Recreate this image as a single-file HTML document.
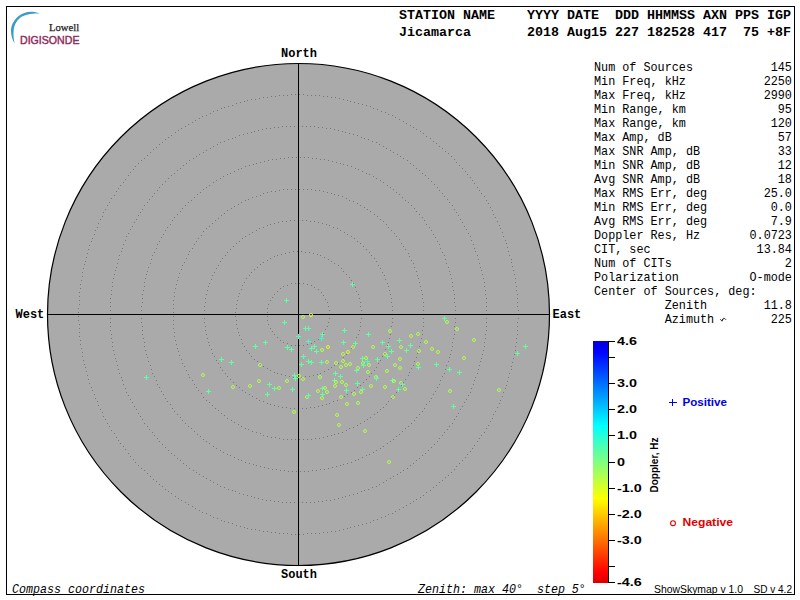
<!DOCTYPE html>
<html><head><meta charset="utf-8"><title>Skymap</title><style>
html,body{margin:0;padding:0;background:#fff;width:800px;height:600px;overflow:hidden}
svg{position:absolute;left:0;top:0;display:block}
text{white-space:pre}
.hdr{font-family:"Liberation Mono",monospace;font-weight:bold;font-size:13.33px;fill:#000}
.st{font-family:"Liberation Mono",monospace;font-size:11.8px;fill:#000}
.cmp{font-family:"Liberation Mono",monospace;font-weight:bold;font-size:12px;fill:#000}
.cbl{font-family:"Liberation Sans",sans-serif;font-weight:bold;font-size:11.5px;fill:#000}
.dl{font-family:"Liberation Sans",sans-serif;font-weight:bold;font-size:10px;fill:#000}
.lg{font-family:"Liberation Sans",sans-serif;font-weight:bold;font-size:10px}
.ft{font-family:"Liberation Mono",monospace;font-style:italic;font-size:11.67px;fill:#000}
.ver{font-family:"Liberation Sans",sans-serif;font-size:10px;fill:#000}
.lw{font-family:"Liberation Serif",serif;font-size:11px;fill:#222;stroke:#222;stroke-width:0.25px}
.dg{font-family:"Liberation Sans",sans-serif;font-size:11.5px;fill:#8f2c5c;stroke:#8f2c5c;stroke-width:0.45px}
</style></head>
<body><svg width="800" height="600" viewBox="0 0 800 600"><defs><linearGradient id="cb" x1="0" y1="0" x2="0" y2="1"><stop offset="0.000" stop-color="#0000db"/><stop offset="0.025" stop-color="#0000f0"/><stop offset="0.050" stop-color="#0006ff"/><stop offset="0.075" stop-color="#001bff"/><stop offset="0.100" stop-color="#0030ff"/><stop offset="0.125" stop-color="#0045ff"/><stop offset="0.150" stop-color="#005aff"/><stop offset="0.175" stop-color="#006fff"/><stop offset="0.200" stop-color="#0084ff"/><stop offset="0.225" stop-color="#0098ff"/><stop offset="0.250" stop-color="#00adff"/><stop offset="0.275" stop-color="#00c2ff"/><stop offset="0.300" stop-color="#00d7ff"/><stop offset="0.325" stop-color="#00ecff"/><stop offset="0.350" stop-color="#02fffd"/><stop offset="0.375" stop-color="#17ffe8"/><stop offset="0.400" stop-color="#2cffd3"/><stop offset="0.425" stop-color="#41ffbe"/><stop offset="0.450" stop-color="#56ffa9"/><stop offset="0.475" stop-color="#6bff94"/><stop offset="0.500" stop-color="#80ff80"/><stop offset="0.525" stop-color="#94ff6b"/><stop offset="0.550" stop-color="#a9ff56"/><stop offset="0.575" stop-color="#beff41"/><stop offset="0.600" stop-color="#d3ff2c"/><stop offset="0.625" stop-color="#e8ff17"/><stop offset="0.650" stop-color="#fdff02"/><stop offset="0.675" stop-color="#ffec00"/><stop offset="0.700" stop-color="#ffd700"/><stop offset="0.725" stop-color="#ffc200"/><stop offset="0.750" stop-color="#ffad00"/><stop offset="0.775" stop-color="#ff9800"/><stop offset="0.800" stop-color="#ff8400"/><stop offset="0.825" stop-color="#ff6f00"/><stop offset="0.850" stop-color="#ff5a00"/><stop offset="0.875" stop-color="#ff4500"/><stop offset="0.900" stop-color="#ff3000"/><stop offset="0.925" stop-color="#ff1b00"/><stop offset="0.950" stop-color="#ff0600"/><stop offset="0.975" stop-color="#f00000"/><stop offset="1.000" stop-color="#db0000"/></linearGradient></defs>
<rect x="6.5" y="6.5" width="788" height="588" fill="none" stroke="#000" stroke-width="1"/>
<circle cx="298.5" cy="314.5" r="251" fill="#aaaaaa" stroke="#000" stroke-width="1.2"/>
<path fill="#777777" d="M329 314h1v1h-1zM329 310h1v1h-1zM328 306h1v1h-1zM327 302h1v1h-1zM325 299h1v1h-1zM323 295h1v1h-1zM321 292h1v1h-1zM318 289h1v1h-1zM314 287h1v1h-1zM311 285h1v1h-1zM307 284h1v1h-1zM303 283h1v1h-1zM299 283h1v1h-1zM295 283h1v1h-1zM291 283h1v1h-1zM287 285h1v1h-1zM283 286h1v1h-1zM280 288h1v1h-1zM277 291h1v1h-1zM274 294h1v1h-1zM272 297h1v1h-1zM270 300h1v1h-1zM268 304h1v1h-1zM267 308h1v1h-1zM267 312h1v1h-1zM267 316h1v1h-1zM267 320h1v1h-1zM268 324h1v1h-1zM270 328h1v1h-1zM272 331h1v1h-1zM274 334h1v1h-1zM277 337h1v1h-1zM280 340h1v1h-1zM283 342h1v1h-1zM287 343h1v1h-1zM291 345h1v1h-1zM295 345h1v1h-1zM299 345h1v1h-1zM303 345h1v1h-1zM307 344h1v1h-1zM311 343h1v1h-1zM314 341h1v1h-1zM318 339h1v1h-1zM321 336h1v1h-1zM323 333h1v1h-1zM325 329h1v1h-1zM327 326h1v1h-1zM328 322h1v1h-1zM329 318h1v1h-1z"/>
<path fill="#777777" d="M361 314h1v1h-1zM361 310h1v1h-1zM360 306h1v1h-1zM360 302h1v1h-1zM359 298h1v1h-1zM358 294h1v1h-1zM356 291h1v1h-1zM355 287h1v1h-1zM353 283h1v1h-1zM351 280h1v1h-1zM349 277h1v1h-1zM346 274h1v1h-1zM343 271h1v1h-1zM341 268h1v1h-1zM338 265h1v1h-1zM334 263h1v1h-1zM331 261h1v1h-1zM328 259h1v1h-1zM324 257h1v1h-1zM320 255h1v1h-1zM317 254h1v1h-1zM313 253h1v1h-1zM309 252h1v1h-1zM305 252h1v1h-1zM301 251h1v1h-1zM297 251h1v1h-1zM293 251h1v1h-1zM289 252h1v1h-1zM285 253h1v1h-1zM281 254h1v1h-1zM277 255h1v1h-1zM274 256h1v1h-1zM270 258h1v1h-1zM267 260h1v1h-1zM263 262h1v1h-1zM260 264h1v1h-1zM257 267h1v1h-1zM254 269h1v1h-1zM251 272h1v1h-1zM249 275h1v1h-1zM246 278h1v1h-1zM244 282h1v1h-1zM242 285h1v1h-1zM241 289h1v1h-1zM239 293h1v1h-1zM238 296h1v1h-1zM237 300h1v1h-1zM236 304h1v1h-1zM236 308h1v1h-1zM235 312h1v1h-1zM235 316h1v1h-1zM236 320h1v1h-1zM236 324h1v1h-1zM237 328h1v1h-1zM238 332h1v1h-1zM239 335h1v1h-1zM241 339h1v1h-1zM242 343h1v1h-1zM244 346h1v1h-1zM246 350h1v1h-1zM249 353h1v1h-1zM251 356h1v1h-1zM254 359h1v1h-1zM257 361h1v1h-1zM260 364h1v1h-1zM263 366h1v1h-1zM267 368h1v1h-1zM270 370h1v1h-1zM274 372h1v1h-1zM277 373h1v1h-1zM281 374h1v1h-1zM285 375h1v1h-1zM289 376h1v1h-1zM293 377h1v1h-1zM297 377h1v1h-1zM301 377h1v1h-1zM305 376h1v1h-1zM309 376h1v1h-1zM313 375h1v1h-1zM317 374h1v1h-1zM320 373h1v1h-1zM324 371h1v1h-1zM328 369h1v1h-1zM331 367h1v1h-1zM334 365h1v1h-1zM338 363h1v1h-1zM341 360h1v1h-1zM343 357h1v1h-1zM346 354h1v1h-1zM349 351h1v1h-1zM351 348h1v1h-1zM353 345h1v1h-1zM355 341h1v1h-1zM356 337h1v1h-1zM358 334h1v1h-1zM359 330h1v1h-1zM360 326h1v1h-1zM360 322h1v1h-1zM361 318h1v1h-1z"/>
<path fill="#777777" d="M392 314h1v1h-1zM392 310h1v1h-1zM392 306h1v1h-1zM391 302h1v1h-1zM391 298h1v1h-1zM390 294h1v1h-1zM389 290h1v1h-1zM388 286h1v1h-1zM387 283h1v1h-1zM385 279h1v1h-1zM384 275h1v1h-1zM382 272h1v1h-1zM380 268h1v1h-1zM378 265h1v1h-1zM376 261h1v1h-1zM374 258h1v1h-1zM371 255h1v1h-1zM369 252h1v1h-1zM366 249h1v1h-1zM363 246h1v1h-1zM360 243h1v1h-1zM357 241h1v1h-1zM354 238h1v1h-1zM351 236h1v1h-1zM347 234h1v1h-1zM344 232h1v1h-1zM340 230h1v1h-1zM337 228h1v1h-1zM333 227h1v1h-1zM329 225h1v1h-1zM326 224h1v1h-1zM322 223h1v1h-1zM318 222h1v1h-1zM314 221h1v1h-1zM310 221h1v1h-1zM306 220h1v1h-1zM302 220h1v1h-1zM298 220h1v1h-1zM294 220h1v1h-1zM290 220h1v1h-1zM286 221h1v1h-1zM282 221h1v1h-1zM278 222h1v1h-1zM274 223h1v1h-1zM270 224h1v1h-1zM267 225h1v1h-1zM263 227h1v1h-1zM259 228h1v1h-1zM256 230h1v1h-1zM252 232h1v1h-1zM249 234h1v1h-1zM245 236h1v1h-1zM242 238h1v1h-1zM239 241h1v1h-1zM236 243h1v1h-1zM233 246h1v1h-1zM230 249h1v1h-1zM227 252h1v1h-1zM225 255h1v1h-1zM222 258h1v1h-1zM220 261h1v1h-1zM218 265h1v1h-1zM216 268h1v1h-1zM214 272h1v1h-1zM212 275h1v1h-1zM211 279h1v1h-1zM209 283h1v1h-1zM208 286h1v1h-1zM207 290h1v1h-1zM206 294h1v1h-1zM205 298h1v1h-1zM205 302h1v1h-1zM204 306h1v1h-1zM204 310h1v1h-1zM204 314h1v1h-1zM204 318h1v1h-1zM204 322h1v1h-1zM205 326h1v1h-1zM205 330h1v1h-1zM206 334h1v1h-1zM207 338h1v1h-1zM208 342h1v1h-1zM209 345h1v1h-1zM211 349h1v1h-1zM212 353h1v1h-1zM214 356h1v1h-1zM216 360h1v1h-1zM218 363h1v1h-1zM220 367h1v1h-1zM222 370h1v1h-1zM225 373h1v1h-1zM227 376h1v1h-1zM230 379h1v1h-1zM233 382h1v1h-1zM236 385h1v1h-1zM239 387h1v1h-1zM242 390h1v1h-1zM245 392h1v1h-1zM249 394h1v1h-1zM252 396h1v1h-1zM256 398h1v1h-1zM259 400h1v1h-1zM263 401h1v1h-1zM267 403h1v1h-1zM270 404h1v1h-1zM274 405h1v1h-1zM278 406h1v1h-1zM282 407h1v1h-1zM286 407h1v1h-1zM290 408h1v1h-1zM294 408h1v1h-1zM298 408h1v1h-1zM302 408h1v1h-1zM306 408h1v1h-1zM310 407h1v1h-1zM314 407h1v1h-1zM318 406h1v1h-1zM322 405h1v1h-1zM326 404h1v1h-1zM329 403h1v1h-1zM333 401h1v1h-1zM337 400h1v1h-1zM340 398h1v1h-1zM344 396h1v1h-1zM347 394h1v1h-1zM351 392h1v1h-1zM354 390h1v1h-1zM357 387h1v1h-1zM360 385h1v1h-1zM363 382h1v1h-1zM366 379h1v1h-1zM369 376h1v1h-1zM371 373h1v1h-1zM374 370h1v1h-1zM376 367h1v1h-1zM378 363h1v1h-1zM380 360h1v1h-1zM382 356h1v1h-1zM384 353h1v1h-1zM385 349h1v1h-1zM387 345h1v1h-1zM388 342h1v1h-1zM389 338h1v1h-1zM390 334h1v1h-1zM391 330h1v1h-1zM391 326h1v1h-1zM392 322h1v1h-1zM392 318h1v1h-1z"/>
<path fill="#777777" d="M424 314h1v1h-1zM423 310h1v1h-1zM423 306h1v1h-1zM423 302h1v1h-1zM422 298h1v1h-1zM422 294h1v1h-1zM421 290h1v1h-1zM420 286h1v1h-1zM419 282h1v1h-1zM418 278h1v1h-1zM417 275h1v1h-1zM416 271h1v1h-1zM414 267h1v1h-1zM413 263h1v1h-1zM411 260h1v1h-1zM409 256h1v1h-1zM408 253h1v1h-1zM405 249h1v1h-1zM403 246h1v1h-1zM401 243h1v1h-1zM399 239h1v1h-1zM396 236h1v1h-1zM394 233h1v1h-1zM391 230h1v1h-1zM388 227h1v1h-1zM386 224h1v1h-1zM383 221h1v1h-1zM380 219h1v1h-1zM377 216h1v1h-1zM374 214h1v1h-1zM370 211h1v1h-1zM367 209h1v1h-1zM364 207h1v1h-1zM360 205h1v1h-1zM357 203h1v1h-1zM353 201h1v1h-1zM349 200h1v1h-1zM346 198h1v1h-1zM342 196h1v1h-1zM338 195h1v1h-1zM334 194h1v1h-1zM331 193h1v1h-1zM327 192h1v1h-1zM323 191h1v1h-1zM319 190h1v1h-1zM315 190h1v1h-1zM311 189h1v1h-1zM307 189h1v1h-1zM303 189h1v1h-1zM299 189h1v1h-1zM295 189h1v1h-1zM291 189h1v1h-1zM287 189h1v1h-1zM283 189h1v1h-1zM279 190h1v1h-1zM275 191h1v1h-1zM271 191h1v1h-1zM267 192h1v1h-1zM263 193h1v1h-1zM260 195h1v1h-1zM256 196h1v1h-1zM252 197h1v1h-1zM248 199h1v1h-1zM245 200h1v1h-1zM241 202h1v1h-1zM238 204h1v1h-1zM234 206h1v1h-1zM231 208h1v1h-1zM227 210h1v1h-1zM224 213h1v1h-1zM221 215h1v1h-1zM218 218h1v1h-1zM215 220h1v1h-1zM212 223h1v1h-1zM209 226h1v1h-1zM206 228h1v1h-1zM203 231h1v1h-1zM201 235h1v1h-1zM198 238h1v1h-1zM196 241h1v1h-1zM194 244h1v1h-1zM192 248h1v1h-1zM189 251h1v1h-1zM188 254h1v1h-1zM186 258h1v1h-1zM184 262h1v1h-1zM182 265h1v1h-1zM181 269h1v1h-1zM179 273h1v1h-1zM178 277h1v1h-1zM177 280h1v1h-1zM176 284h1v1h-1zM175 288h1v1h-1zM174 292h1v1h-1zM174 296h1v1h-1zM173 300h1v1h-1zM173 304h1v1h-1zM173 308h1v1h-1zM173 312h1v1h-1zM173 316h1v1h-1zM173 320h1v1h-1zM173 324h1v1h-1zM173 328h1v1h-1zM174 332h1v1h-1zM174 336h1v1h-1zM175 340h1v1h-1zM176 344h1v1h-1zM177 348h1v1h-1zM178 351h1v1h-1zM179 355h1v1h-1zM181 359h1v1h-1zM182 363h1v1h-1zM184 366h1v1h-1zM186 370h1v1h-1zM188 374h1v1h-1zM189 377h1v1h-1zM192 380h1v1h-1zM194 384h1v1h-1zM196 387h1v1h-1zM198 390h1v1h-1zM201 393h1v1h-1zM203 397h1v1h-1zM206 400h1v1h-1zM209 402h1v1h-1zM212 405h1v1h-1zM215 408h1v1h-1zM218 410h1v1h-1zM221 413h1v1h-1zM224 415h1v1h-1zM227 418h1v1h-1zM231 420h1v1h-1zM234 422h1v1h-1zM238 424h1v1h-1zM241 426h1v1h-1zM245 428h1v1h-1zM248 429h1v1h-1zM252 431h1v1h-1zM256 432h1v1h-1zM260 433h1v1h-1zM263 435h1v1h-1zM267 436h1v1h-1zM271 437h1v1h-1zM275 437h1v1h-1zM279 438h1v1h-1zM283 439h1v1h-1zM287 439h1v1h-1zM291 439h1v1h-1zM295 439h1v1h-1zM299 439h1v1h-1zM303 439h1v1h-1zM307 439h1v1h-1zM311 439h1v1h-1zM315 438h1v1h-1zM319 438h1v1h-1zM323 437h1v1h-1zM327 436h1v1h-1zM331 435h1v1h-1zM334 434h1v1h-1zM338 433h1v1h-1zM342 432h1v1h-1zM346 430h1v1h-1zM349 428h1v1h-1zM353 427h1v1h-1zM357 425h1v1h-1zM360 423h1v1h-1zM364 421h1v1h-1zM367 419h1v1h-1zM370 417h1v1h-1zM374 414h1v1h-1zM377 412h1v1h-1zM380 409h1v1h-1zM383 407h1v1h-1zM386 404h1v1h-1zM388 401h1v1h-1zM391 398h1v1h-1zM394 395h1v1h-1zM396 392h1v1h-1zM399 389h1v1h-1zM401 385h1v1h-1zM403 382h1v1h-1zM405 379h1v1h-1zM408 375h1v1h-1zM409 372h1v1h-1zM411 368h1v1h-1zM413 365h1v1h-1zM414 361h1v1h-1zM416 357h1v1h-1zM417 353h1v1h-1zM418 350h1v1h-1zM419 346h1v1h-1zM420 342h1v1h-1zM421 338h1v1h-1zM422 334h1v1h-1zM422 330h1v1h-1zM423 326h1v1h-1zM423 322h1v1h-1zM423 318h1v1h-1z"/>
<path fill="#777777" d="M455 314h1v1h-1zM455 310h1v1h-1zM455 306h1v1h-1zM454 302h1v1h-1zM454 298h1v1h-1zM454 294h1v1h-1zM453 290h1v1h-1zM452 286h1v1h-1zM452 282h1v1h-1zM451 278h1v1h-1zM450 274h1v1h-1zM449 271h1v1h-1zM448 267h1v1h-1zM446 263h1v1h-1zM445 259h1v1h-1zM444 255h1v1h-1zM442 252h1v1h-1zM440 248h1v1h-1zM439 244h1v1h-1zM437 241h1v1h-1zM435 237h1v1h-1zM433 234h1v1h-1zM431 230h1v1h-1zM429 227h1v1h-1zM426 224h1v1h-1zM424 220h1v1h-1zM422 217h1v1h-1zM419 214h1v1h-1zM416 211h1v1h-1zM414 208h1v1h-1zM411 205h1v1h-1zM408 202h1v1h-1zM405 200h1v1h-1zM402 197h1v1h-1zM399 194h1v1h-1zM396 192h1v1h-1zM393 189h1v1h-1zM390 187h1v1h-1zM387 185h1v1h-1zM383 182h1v1h-1zM380 180h1v1h-1zM376 178h1v1h-1zM373 176h1v1h-1zM369 174h1v1h-1zM366 173h1v1h-1zM362 171h1v1h-1zM358 169h1v1h-1zM355 168h1v1h-1zM351 166h1v1h-1zM347 165h1v1h-1zM343 164h1v1h-1zM340 163h1v1h-1zM336 162h1v1h-1zM332 161h1v1h-1zM328 160h1v1h-1zM324 159h1v1h-1zM320 159h1v1h-1zM316 158h1v1h-1zM312 158h1v1h-1zM308 157h1v1h-1zM304 157h1v1h-1zM300 157h1v1h-1zM296 157h1v1h-1zM292 157h1v1h-1zM288 157h1v1h-1zM284 158h1v1h-1zM280 158h1v1h-1zM276 159h1v1h-1zM272 159h1v1h-1zM268 160h1v1h-1zM264 161h1v1h-1zM260 162h1v1h-1zM256 163h1v1h-1zM253 164h1v1h-1zM249 165h1v1h-1zM245 166h1v1h-1zM241 168h1v1h-1zM238 169h1v1h-1zM234 171h1v1h-1zM230 173h1v1h-1zM227 174h1v1h-1zM223 176h1v1h-1zM220 178h1v1h-1zM216 180h1v1h-1zM213 182h1v1h-1zM209 185h1v1h-1zM206 187h1v1h-1zM203 189h1v1h-1zM200 192h1v1h-1zM197 194h1v1h-1zM194 197h1v1h-1zM191 200h1v1h-1zM188 202h1v1h-1zM185 205h1v1h-1zM182 208h1v1h-1zM180 211h1v1h-1zM177 214h1v1h-1zM174 217h1v1h-1zM172 220h1v1h-1zM170 224h1v1h-1zM167 227h1v1h-1zM165 230h1v1h-1zM163 234h1v1h-1zM161 237h1v1h-1zM159 241h1v1h-1zM157 244h1v1h-1zM156 248h1v1h-1zM154 252h1v1h-1zM152 255h1v1h-1zM151 259h1v1h-1zM150 263h1v1h-1zM148 267h1v1h-1zM147 271h1v1h-1zM146 274h1v1h-1zM145 278h1v1h-1zM144 282h1v1h-1zM144 286h1v1h-1zM143 290h1v1h-1zM142 294h1v1h-1zM142 298h1v1h-1zM142 302h1v1h-1zM141 306h1v1h-1zM141 310h1v1h-1zM141 314h1v1h-1zM141 318h1v1h-1zM141 322h1v1h-1zM142 326h1v1h-1zM142 330h1v1h-1zM142 334h1v1h-1zM143 338h1v1h-1zM144 342h1v1h-1zM144 346h1v1h-1zM145 350h1v1h-1zM146 354h1v1h-1zM147 357h1v1h-1zM148 361h1v1h-1zM150 365h1v1h-1zM151 369h1v1h-1zM152 373h1v1h-1zM154 376h1v1h-1zM156 380h1v1h-1zM157 384h1v1h-1zM159 387h1v1h-1zM161 391h1v1h-1zM163 394h1v1h-1zM165 398h1v1h-1zM167 401h1v1h-1zM170 404h1v1h-1zM172 408h1v1h-1zM174 411h1v1h-1zM177 414h1v1h-1zM180 417h1v1h-1zM182 420h1v1h-1zM185 423h1v1h-1zM188 426h1v1h-1zM191 428h1v1h-1zM194 431h1v1h-1zM197 434h1v1h-1zM200 436h1v1h-1zM203 439h1v1h-1zM206 441h1v1h-1zM209 443h1v1h-1zM213 446h1v1h-1zM216 448h1v1h-1zM220 450h1v1h-1zM223 452h1v1h-1zM227 454h1v1h-1zM230 455h1v1h-1zM234 457h1v1h-1zM238 459h1v1h-1zM241 460h1v1h-1zM245 462h1v1h-1zM249 463h1v1h-1zM253 464h1v1h-1zM256 465h1v1h-1zM260 466h1v1h-1zM264 467h1v1h-1zM268 468h1v1h-1zM272 469h1v1h-1zM276 469h1v1h-1zM280 470h1v1h-1zM284 470h1v1h-1zM288 471h1v1h-1zM292 471h1v1h-1zM296 471h1v1h-1zM300 471h1v1h-1zM304 471h1v1h-1zM308 471h1v1h-1zM312 470h1v1h-1zM316 470h1v1h-1zM320 469h1v1h-1zM324 469h1v1h-1zM328 468h1v1h-1zM332 467h1v1h-1zM336 466h1v1h-1zM340 465h1v1h-1zM343 464h1v1h-1zM347 463h1v1h-1zM351 462h1v1h-1zM355 460h1v1h-1zM358 459h1v1h-1zM362 457h1v1h-1zM366 455h1v1h-1zM369 454h1v1h-1zM373 452h1v1h-1zM376 450h1v1h-1zM380 448h1v1h-1zM383 446h1v1h-1zM387 443h1v1h-1zM390 441h1v1h-1zM393 439h1v1h-1zM396 436h1v1h-1zM399 434h1v1h-1zM402 431h1v1h-1zM405 428h1v1h-1zM408 426h1v1h-1zM411 423h1v1h-1zM414 420h1v1h-1zM416 417h1v1h-1zM419 414h1v1h-1zM422 411h1v1h-1zM424 408h1v1h-1zM426 404h1v1h-1zM429 401h1v1h-1zM431 398h1v1h-1zM433 394h1v1h-1zM435 391h1v1h-1zM437 387h1v1h-1zM439 384h1v1h-1zM440 380h1v1h-1zM442 376h1v1h-1zM444 373h1v1h-1zM445 369h1v1h-1zM446 365h1v1h-1zM448 361h1v1h-1zM449 357h1v1h-1zM450 354h1v1h-1zM451 350h1v1h-1zM452 346h1v1h-1zM452 342h1v1h-1zM453 338h1v1h-1zM454 334h1v1h-1zM454 330h1v1h-1zM454 326h1v1h-1zM455 322h1v1h-1zM455 318h1v1h-1z"/>
<path fill="#777777" d="M486 314h1v1h-1zM486 310h1v1h-1zM486 306h1v1h-1zM486 302h1v1h-1zM486 298h1v1h-1zM485 294h1v1h-1zM485 290h1v1h-1zM484 286h1v1h-1zM484 282h1v1h-1zM483 278h1v1h-1zM482 274h1v1h-1zM481 270h1v1h-1zM480 267h1v1h-1zM479 263h1v1h-1zM478 259h1v1h-1zM477 255h1v1h-1zM475 251h1v1h-1zM474 248h1v1h-1zM473 244h1v1h-1zM471 240h1v1h-1zM470 236h1v1h-1zM468 233h1v1h-1zM466 229h1v1h-1zM464 226h1v1h-1zM462 222h1v1h-1zM460 219h1v1h-1zM458 215h1v1h-1zM456 212h1v1h-1zM454 209h1v1h-1zM452 205h1v1h-1zM449 202h1v1h-1zM447 199h1v1h-1zM444 196h1v1h-1zM442 193h1v1h-1zM439 190h1v1h-1zM437 187h1v1h-1zM434 184h1v1h-1zM431 181h1v1h-1zM428 178h1v1h-1zM425 175h1v1h-1zM422 173h1v1h-1zM419 170h1v1h-1zM416 168h1v1h-1zM413 165h1v1h-1zM410 163h1v1h-1zM407 160h1v1h-1zM403 158h1v1h-1zM400 156h1v1h-1zM397 154h1v1h-1zM393 152h1v1h-1zM390 150h1v1h-1zM386 148h1v1h-1zM383 146h1v1h-1zM379 144h1v1h-1zM376 142h1v1h-1zM372 141h1v1h-1zM368 139h1v1h-1zM364 138h1v1h-1zM361 137h1v1h-1zM357 135h1v1h-1zM353 134h1v1h-1zM349 133h1v1h-1zM345 132h1v1h-1zM342 131h1v1h-1zM338 130h1v1h-1zM334 129h1v1h-1zM330 128h1v1h-1zM326 128h1v1h-1zM322 127h1v1h-1zM318 127h1v1h-1zM314 126h1v1h-1zM310 126h1v1h-1zM306 126h1v1h-1zM302 126h1v1h-1zM298 126h1v1h-1zM294 126h1v1h-1zM290 126h1v1h-1zM286 126h1v1h-1zM282 126h1v1h-1zM278 127h1v1h-1zM274 127h1v1h-1zM270 128h1v1h-1zM266 128h1v1h-1zM262 129h1v1h-1zM258 130h1v1h-1zM254 131h1v1h-1zM251 132h1v1h-1zM247 133h1v1h-1zM243 134h1v1h-1zM239 135h1v1h-1zM235 137h1v1h-1zM232 138h1v1h-1zM228 139h1v1h-1zM224 141h1v1h-1zM220 142h1v1h-1zM217 144h1v1h-1zM213 146h1v1h-1zM210 148h1v1h-1zM206 150h1v1h-1zM203 152h1v1h-1zM199 154h1v1h-1zM196 156h1v1h-1zM193 158h1v1h-1zM189 160h1v1h-1zM186 163h1v1h-1zM183 165h1v1h-1zM180 168h1v1h-1zM177 170h1v1h-1zM174 173h1v1h-1zM171 175h1v1h-1zM168 178h1v1h-1zM165 181h1v1h-1zM162 184h1v1h-1zM159 187h1v1h-1zM157 190h1v1h-1zM154 193h1v1h-1zM152 196h1v1h-1zM149 199h1v1h-1zM147 202h1v1h-1zM144 205h1v1h-1zM142 209h1v1h-1zM140 212h1v1h-1zM138 215h1v1h-1zM136 219h1v1h-1zM134 222h1v1h-1zM132 226h1v1h-1zM130 229h1v1h-1zM128 233h1v1h-1zM126 236h1v1h-1zM125 240h1v1h-1zM123 244h1v1h-1zM122 248h1v1h-1zM121 251h1v1h-1zM119 255h1v1h-1zM118 259h1v1h-1zM117 263h1v1h-1zM116 267h1v1h-1zM115 270h1v1h-1zM114 274h1v1h-1zM113 278h1v1h-1zM112 282h1v1h-1zM112 286h1v1h-1zM111 290h1v1h-1zM111 294h1v1h-1zM110 298h1v1h-1zM110 302h1v1h-1zM110 306h1v1h-1zM110 310h1v1h-1zM110 314h1v1h-1zM110 318h1v1h-1zM110 322h1v1h-1zM110 326h1v1h-1zM110 330h1v1h-1zM111 334h1v1h-1zM111 338h1v1h-1zM112 342h1v1h-1zM112 346h1v1h-1zM113 350h1v1h-1zM114 354h1v1h-1zM115 358h1v1h-1zM116 361h1v1h-1zM117 365h1v1h-1zM118 369h1v1h-1zM119 373h1v1h-1zM121 377h1v1h-1zM122 380h1v1h-1zM123 384h1v1h-1zM125 388h1v1h-1zM126 392h1v1h-1zM128 395h1v1h-1zM130 399h1v1h-1zM132 402h1v1h-1zM134 406h1v1h-1zM136 409h1v1h-1zM138 413h1v1h-1zM140 416h1v1h-1zM142 419h1v1h-1zM144 423h1v1h-1zM147 426h1v1h-1zM149 429h1v1h-1zM152 432h1v1h-1zM154 435h1v1h-1zM157 438h1v1h-1zM159 441h1v1h-1zM162 444h1v1h-1zM165 447h1v1h-1zM168 450h1v1h-1zM171 453h1v1h-1zM174 455h1v1h-1zM177 458h1v1h-1zM180 460h1v1h-1zM183 463h1v1h-1zM186 465h1v1h-1zM189 468h1v1h-1zM193 470h1v1h-1zM196 472h1v1h-1zM199 474h1v1h-1zM203 476h1v1h-1zM206 478h1v1h-1zM210 480h1v1h-1zM213 482h1v1h-1zM217 484h1v1h-1zM220 486h1v1h-1zM224 487h1v1h-1zM228 489h1v1h-1zM232 490h1v1h-1zM235 491h1v1h-1zM239 493h1v1h-1zM243 494h1v1h-1zM247 495h1v1h-1zM251 496h1v1h-1zM254 497h1v1h-1zM258 498h1v1h-1zM262 499h1v1h-1zM266 500h1v1h-1zM270 500h1v1h-1zM274 501h1v1h-1zM278 501h1v1h-1zM282 502h1v1h-1zM286 502h1v1h-1zM290 502h1v1h-1zM294 502h1v1h-1zM298 502h1v1h-1zM302 502h1v1h-1zM306 502h1v1h-1zM310 502h1v1h-1zM314 502h1v1h-1zM318 501h1v1h-1zM322 501h1v1h-1zM326 500h1v1h-1zM330 500h1v1h-1zM334 499h1v1h-1zM338 498h1v1h-1zM342 497h1v1h-1zM345 496h1v1h-1zM349 495h1v1h-1zM353 494h1v1h-1zM357 493h1v1h-1zM361 491h1v1h-1zM364 490h1v1h-1zM368 489h1v1h-1zM372 487h1v1h-1zM376 486h1v1h-1zM379 484h1v1h-1zM383 482h1v1h-1zM386 480h1v1h-1zM390 478h1v1h-1zM393 476h1v1h-1zM397 474h1v1h-1zM400 472h1v1h-1zM403 470h1v1h-1zM407 468h1v1h-1zM410 465h1v1h-1zM413 463h1v1h-1zM416 460h1v1h-1zM419 458h1v1h-1zM422 455h1v1h-1zM425 453h1v1h-1zM428 450h1v1h-1zM431 447h1v1h-1zM434 444h1v1h-1zM437 441h1v1h-1zM439 438h1v1h-1zM442 435h1v1h-1zM444 432h1v1h-1zM447 429h1v1h-1zM449 426h1v1h-1zM452 423h1v1h-1zM454 419h1v1h-1zM456 416h1v1h-1zM458 413h1v1h-1zM460 409h1v1h-1zM462 406h1v1h-1zM464 402h1v1h-1zM466 399h1v1h-1zM468 395h1v1h-1zM470 392h1v1h-1zM471 388h1v1h-1zM473 384h1v1h-1zM474 380h1v1h-1zM475 377h1v1h-1zM477 373h1v1h-1zM478 369h1v1h-1zM479 365h1v1h-1zM480 361h1v1h-1zM481 358h1v1h-1zM482 354h1v1h-1zM483 350h1v1h-1zM484 346h1v1h-1zM484 342h1v1h-1zM485 338h1v1h-1zM485 334h1v1h-1zM486 330h1v1h-1zM486 326h1v1h-1zM486 322h1v1h-1zM486 318h1v1h-1z"/>
<path fill="#777777" d="M518 314h1v1h-1zM518 310h1v1h-1zM517 306h1v1h-1zM517 302h1v1h-1zM517 298h1v1h-1zM517 294h1v1h-1zM516 290h1v1h-1zM516 286h1v1h-1zM515 282h1v1h-1zM515 278h1v1h-1zM514 274h1v1h-1zM513 270h1v1h-1zM512 266h1v1h-1zM511 262h1v1h-1zM511 259h1v1h-1zM509 255h1v1h-1zM508 251h1v1h-1zM507 247h1v1h-1zM506 243h1v1h-1zM505 240h1v1h-1zM503 236h1v1h-1zM502 232h1v1h-1zM500 228h1v1h-1zM499 225h1v1h-1zM497 221h1v1h-1zM495 217h1v1h-1zM493 214h1v1h-1zM492 210h1v1h-1zM490 207h1v1h-1zM488 203h1v1h-1zM486 200h1v1h-1zM484 196h1v1h-1zM481 193h1v1h-1zM479 190h1v1h-1zM477 187h1v1h-1zM474 183h1v1h-1zM472 180h1v1h-1zM470 177h1v1h-1zM467 174h1v1h-1zM465 171h1v1h-1zM462 168h1v1h-1zM459 165h1v1h-1zM456 162h1v1h-1zM454 159h1v1h-1zM451 156h1v1h-1zM448 153h1v1h-1zM445 151h1v1h-1zM442 148h1v1h-1zM439 146h1v1h-1zM436 143h1v1h-1zM433 141h1v1h-1zM430 138h1v1h-1zM426 136h1v1h-1zM423 133h1v1h-1zM420 131h1v1h-1zM416 129h1v1h-1zM413 127h1v1h-1zM410 125h1v1h-1zM406 123h1v1h-1zM403 121h1v1h-1zM399 119h1v1h-1zM395 117h1v1h-1zM392 115h1v1h-1zM388 114h1v1h-1zM385 112h1v1h-1zM381 111h1v1h-1zM377 109h1v1h-1zM373 108h1v1h-1zM370 106h1v1h-1zM366 105h1v1h-1zM362 104h1v1h-1zM358 103h1v1h-1zM354 102h1v1h-1zM350 101h1v1h-1zM347 100h1v1h-1zM343 99h1v1h-1zM339 98h1v1h-1zM335 97h1v1h-1zM331 97h1v1h-1zM327 96h1v1h-1zM323 96h1v1h-1zM319 95h1v1h-1zM315 95h1v1h-1zM311 95h1v1h-1zM307 95h1v1h-1zM303 94h1v1h-1zM299 94h1v1h-1zM295 94h1v1h-1zM291 94h1v1h-1zM287 95h1v1h-1zM283 95h1v1h-1zM279 95h1v1h-1zM275 96h1v1h-1zM271 96h1v1h-1zM267 97h1v1h-1zM263 97h1v1h-1zM259 98h1v1h-1zM255 99h1v1h-1zM251 99h1v1h-1zM247 100h1v1h-1zM244 101h1v1h-1zM240 102h1v1h-1zM236 103h1v1h-1zM232 105h1v1h-1zM228 106h1v1h-1zM224 107h1v1h-1zM221 108h1v1h-1zM217 110h1v1h-1zM213 111h1v1h-1zM210 113h1v1h-1zM206 115h1v1h-1zM202 116h1v1h-1zM199 118h1v1h-1zM195 120h1v1h-1zM192 122h1v1h-1zM188 124h1v1h-1zM185 126h1v1h-1zM181 128h1v1h-1zM178 130h1v1h-1zM175 132h1v1h-1zM171 135h1v1h-1zM168 137h1v1h-1zM165 139h1v1h-1zM162 142h1v1h-1zM159 144h1v1h-1zM156 147h1v1h-1zM153 149h1v1h-1zM150 152h1v1h-1zM147 155h1v1h-1zM144 158h1v1h-1zM141 160h1v1h-1zM138 163h1v1h-1zM135 166h1v1h-1zM133 169h1v1h-1zM130 172h1v1h-1zM128 175h1v1h-1zM125 179h1v1h-1zM123 182h1v1h-1zM120 185h1v1h-1zM118 188h1v1h-1zM116 191h1v1h-1zM114 195h1v1h-1zM111 198h1v1h-1zM109 202h1v1h-1zM107 205h1v1h-1zM105 209h1v1h-1zM103 212h1v1h-1zM102 216h1v1h-1zM100 219h1v1h-1zM98 223h1v1h-1zM97 227h1v1h-1zM95 230h1v1h-1zM94 234h1v1h-1zM92 238h1v1h-1zM91 241h1v1h-1zM89 245h1v1h-1zM88 249h1v1h-1zM87 253h1v1h-1zM86 257h1v1h-1zM85 261h1v1h-1zM84 264h1v1h-1zM83 268h1v1h-1zM82 272h1v1h-1zM82 276h1v1h-1zM81 280h1v1h-1zM80 284h1v1h-1zM80 288h1v1h-1zM79 292h1v1h-1zM79 296h1v1h-1zM79 300h1v1h-1zM79 304h1v1h-1zM78 308h1v1h-1zM78 312h1v1h-1zM78 316h1v1h-1zM78 320h1v1h-1zM79 324h1v1h-1zM79 328h1v1h-1zM79 332h1v1h-1zM79 336h1v1h-1zM80 340h1v1h-1zM80 344h1v1h-1zM81 348h1v1h-1zM82 352h1v1h-1zM82 356h1v1h-1zM83 360h1v1h-1zM84 364h1v1h-1zM85 367h1v1h-1zM86 371h1v1h-1zM87 375h1v1h-1zM88 379h1v1h-1zM89 383h1v1h-1zM91 387h1v1h-1zM92 390h1v1h-1zM94 394h1v1h-1zM95 398h1v1h-1zM97 401h1v1h-1zM98 405h1v1h-1zM100 409h1v1h-1zM102 412h1v1h-1zM103 416h1v1h-1zM105 419h1v1h-1zM107 423h1v1h-1zM109 426h1v1h-1zM111 430h1v1h-1zM114 433h1v1h-1zM116 437h1v1h-1zM118 440h1v1h-1zM120 443h1v1h-1zM123 446h1v1h-1zM125 449h1v1h-1zM128 453h1v1h-1zM130 456h1v1h-1zM133 459h1v1h-1zM135 462h1v1h-1zM138 465h1v1h-1zM141 468h1v1h-1zM144 470h1v1h-1zM147 473h1v1h-1zM150 476h1v1h-1zM153 479h1v1h-1zM156 481h1v1h-1zM159 484h1v1h-1zM162 486h1v1h-1zM165 489h1v1h-1zM168 491h1v1h-1zM171 493h1v1h-1zM175 496h1v1h-1zM178 498h1v1h-1zM181 500h1v1h-1zM185 502h1v1h-1zM188 504h1v1h-1zM192 506h1v1h-1zM195 508h1v1h-1zM199 510h1v1h-1zM202 512h1v1h-1zM206 513h1v1h-1zM210 515h1v1h-1zM213 517h1v1h-1zM217 518h1v1h-1zM221 520h1v1h-1zM224 521h1v1h-1zM228 522h1v1h-1zM232 523h1v1h-1zM236 525h1v1h-1zM240 526h1v1h-1zM244 527h1v1h-1zM247 528h1v1h-1zM251 529h1v1h-1zM255 529h1v1h-1zM259 530h1v1h-1zM263 531h1v1h-1zM267 531h1v1h-1zM271 532h1v1h-1zM275 532h1v1h-1zM279 533h1v1h-1zM283 533h1v1h-1zM287 533h1v1h-1zM291 534h1v1h-1zM295 534h1v1h-1zM299 534h1v1h-1zM303 534h1v1h-1zM307 533h1v1h-1zM311 533h1v1h-1zM315 533h1v1h-1zM319 533h1v1h-1zM323 532h1v1h-1zM327 532h1v1h-1zM331 531h1v1h-1zM335 531h1v1h-1zM339 530h1v1h-1zM343 529h1v1h-1zM347 528h1v1h-1zM350 527h1v1h-1zM354 526h1v1h-1zM358 525h1v1h-1zM362 524h1v1h-1zM366 523h1v1h-1zM370 522h1v1h-1zM373 520h1v1h-1zM377 519h1v1h-1zM381 517h1v1h-1zM385 516h1v1h-1zM388 514h1v1h-1zM392 513h1v1h-1zM395 511h1v1h-1zM399 509h1v1h-1zM403 507h1v1h-1zM406 505h1v1h-1zM410 503h1v1h-1zM413 501h1v1h-1zM416 499h1v1h-1zM420 497h1v1h-1zM423 495h1v1h-1zM426 492h1v1h-1zM430 490h1v1h-1zM433 487h1v1h-1zM436 485h1v1h-1zM439 482h1v1h-1zM442 480h1v1h-1zM445 477h1v1h-1zM448 475h1v1h-1zM451 472h1v1h-1zM454 469h1v1h-1zM456 466h1v1h-1zM459 463h1v1h-1zM462 460h1v1h-1zM465 457h1v1h-1zM467 454h1v1h-1zM470 451h1v1h-1zM472 448h1v1h-1zM474 445h1v1h-1zM477 441h1v1h-1zM479 438h1v1h-1zM481 435h1v1h-1zM484 432h1v1h-1zM486 428h1v1h-1zM488 425h1v1h-1zM490 421h1v1h-1zM492 418h1v1h-1zM493 414h1v1h-1zM495 411h1v1h-1zM497 407h1v1h-1zM499 403h1v1h-1zM500 400h1v1h-1zM502 396h1v1h-1zM503 392h1v1h-1zM505 388h1v1h-1zM506 385h1v1h-1zM507 381h1v1h-1zM508 377h1v1h-1zM509 373h1v1h-1zM511 369h1v1h-1zM511 366h1v1h-1zM512 362h1v1h-1zM513 358h1v1h-1zM514 354h1v1h-1zM515 350h1v1h-1zM515 346h1v1h-1zM516 342h1v1h-1zM516 338h1v1h-1zM517 334h1v1h-1zM517 330h1v1h-1zM517 326h1v1h-1zM517 322h1v1h-1zM518 318h1v1h-1z"/>
<path d="M298.5 63.5 V565.5 M47.5 314.5 H549.5" stroke="#000" stroke-width="1" fill="none"/>
<path d="M284.0 300.5h5M286.5 298.0v5" stroke="#60ff9f"/>
<circle cx="303" cy="317" r="1.5" fill="none" stroke="#b2ff4d" stroke-width="1"/>
<path d="M282.0 322.5h5M284.5 320.0v5" stroke="#60ff9f"/>
<path d="M303.0 328.5h5M305.5 326.0v5" stroke="#60ff9f"/>
<path d="M306.0 328.5h5M308.5 326.0v5" stroke="#60ff9f"/>
<path d="M296.0 336.5h5M298.5 334.0v5" stroke="#49ffb6"/>
<path d="M306.0 341.5h5M308.5 339.0v5" stroke="#40ffbf"/>
<path d="M263.0 342.5h5M265.5 340.0v5" stroke="#60ff9f"/>
<path d="M253.0 346.5h5M255.5 344.0v5" stroke="#60ff9f"/>
<path d="M285.0 347.5h5M287.5 345.0v5" stroke="#60ff9f"/>
<path d="M289.0 349.5h5M291.5 347.0v5" stroke="#60ff9f"/>
<path d="M301.0 356.5h5M303.5 354.0v5" stroke="#60ff9f"/>
<path d="M219.0 359.5h5M221.5 357.0v5" stroke="#60ff9f"/>
<path d="M144.0 377.5h5M146.5 375.0v5" stroke="#60ff9f"/>
<circle cx="203" cy="375" r="1.5" fill="none" stroke="#b2ff4d" stroke-width="1"/>
<path d="M206.0 391.5h5M208.5 389.0v5" stroke="#60ff9f"/>
<path d="M350.0 284.5h5M352.5 282.0v5" stroke="#60ff9f"/>
<circle cx="311" cy="315" r="1.5" fill="none" stroke="#daff25" stroke-width="1"/>
<path d="M342.0 330.5h5M344.5 328.0v5" stroke="#60ff9f"/>
<path d="M366.0 334.5h5M368.5 332.0v5" stroke="#60ff9f"/>
<path d="M320.0 334.5h5M322.5 332.0v5" stroke="#60ff9f"/>
<path d="M319.0 338.5h5M321.5 336.0v5" stroke="#32ffcd"/>
<path d="M341.0 342.5h5M343.5 340.0v5" stroke="#60ff9f"/>
<path d="M353.0 343.5h5M355.5 341.0v5" stroke="#60ff9f"/>
<path d="M312.0 346.5h5M314.5 344.0v5" stroke="#60ff9f"/>
<path d="M309.0 348.5h5M311.5 346.0v5" stroke="#60ff9f"/>
<path d="M314.0 351.5h5M316.5 349.0v5" stroke="#60ff9f"/>
<circle cx="328" cy="347" r="1.5" fill="none" stroke="#dfff20" stroke-width="1"/>
<circle cx="322" cy="350" r="1.5" fill="none" stroke="#b2ff4d" stroke-width="1"/>
<circle cx="353" cy="347" r="1.5" fill="none" stroke="#b2ff4d" stroke-width="1"/>
<circle cx="373" cy="347" r="1.5" fill="none" stroke="#b2ff4d" stroke-width="1"/>
<circle cx="348" cy="352" r="1.5" fill="none" stroke="#daff25" stroke-width="1"/>
<circle cx="343" cy="354" r="1.5" fill="none" stroke="#b2ff4d" stroke-width="1"/>
<path d="M442.0 318.5h5M444.5 316.0v5" stroke="#60ff9f"/>
<circle cx="447" cy="322" r="1.5" fill="none" stroke="#b2ff4d" stroke-width="1"/>
<circle cx="390" cy="331" r="1.5" fill="none" stroke="#b2ff4d" stroke-width="1"/>
<circle cx="411" cy="336" r="1.5" fill="none" stroke="#b2ff4d" stroke-width="1"/>
<circle cx="418" cy="334" r="1.5" fill="none" stroke="#b2ff4d" stroke-width="1"/>
<path d="M397.0 340.5h5M399.5 338.0v5" stroke="#60ff9f"/>
<path d="M380.0 342.5h5M382.5 340.0v5" stroke="#60ff9f"/>
<circle cx="426" cy="342" r="1.5" fill="none" stroke="#b2ff4d" stroke-width="1"/>
<path d="M386.0 346.5h5M388.5 344.0v5" stroke="#60ff9f"/>
<circle cx="401" cy="347" r="1.5" fill="none" stroke="#b2ff4d" stroke-width="1"/>
<path d="M408.0 345.5h5M410.5 343.0v5" stroke="#60ff9f"/>
<path d="M404.0 350.5h5M406.5 348.0v5" stroke="#60ff9f"/>
<path d="M389.0 351.5h5M391.5 349.0v5" stroke="#60ff9f"/>
<circle cx="419" cy="351" r="1.5" fill="none" stroke="#b2ff4d" stroke-width="1"/>
<circle cx="432" cy="349" r="1.5" fill="none" stroke="#b2ff4d" stroke-width="1"/>
<circle cx="438" cy="352" r="1.5" fill="none" stroke="#b2ff4d" stroke-width="1"/>
<circle cx="385" cy="354" r="1.5" fill="none" stroke="#b2ff4d" stroke-width="1"/>
<path d="M385.0 356.5h5M387.5 354.0v5" stroke="#60ff9f"/>
<path d="M375.0 359.5h5M377.5 357.0v5" stroke="#60ff9f"/>
<circle cx="400" cy="359" r="1.5" fill="none" stroke="#b2ff4d" stroke-width="1"/>
<circle cx="395" cy="365" r="1.5" fill="none" stroke="#b2ff4d" stroke-width="1"/>
<circle cx="400" cy="368" r="1.5" fill="none" stroke="#b2ff4d" stroke-width="1"/>
<circle cx="418" cy="364" r="1.5" fill="none" stroke="#b2ff4d" stroke-width="1"/>
<path d="M416.0 367.5h5M418.5 365.0v5" stroke="#60ff9f"/>
<path d="M434.0 364.5h5M436.5 362.0v5" stroke="#60ff9f"/>
<circle cx="387" cy="371" r="1.5" fill="none" stroke="#b2ff4d" stroke-width="1"/>
<circle cx="376" cy="377" r="1.5" fill="none" stroke="#b2ff4d" stroke-width="1"/>
<path d="M374.0 378.5h5M376.5 376.0v5" stroke="#60ff9f"/>
<path d="M390.0 380.5h5M392.5 378.0v5" stroke="#60ff9f"/>
<circle cx="394" cy="381" r="1.5" fill="none" stroke="#b2ff4d" stroke-width="1"/>
<circle cx="401" cy="383" r="1.5" fill="none" stroke="#b2ff4d" stroke-width="1"/>
<circle cx="457" cy="329" r="1.5" fill="none" stroke="#b2ff4d" stroke-width="1"/>
<circle cx="474" cy="340" r="1.5" fill="none" stroke="#b2ff4d" stroke-width="1"/>
<path d="M523.0 346.5h5M525.5 344.0v5" stroke="#60ff9f"/>
<path d="M515.0 353.5h5M517.5 351.0v5" stroke="#60ff9f"/>
<circle cx="464" cy="358" r="1.5" fill="none" stroke="#b2ff4d" stroke-width="1"/>
<path d="M447.0 369.5h5M449.5 367.0v5" stroke="#60ff9f"/>
<path d="M457.0 372.5h5M459.5 370.0v5" stroke="#60ff9f"/>
<circle cx="450" cy="391" r="1.5" fill="none" stroke="#b2ff4d" stroke-width="1"/>
<circle cx="499" cy="390" r="1.5" fill="none" stroke="#b2ff4d" stroke-width="1"/>
<path d="M306.0 361.5h5M308.5 359.0v5" stroke="#60ff9f"/>
<path d="M229.0 362.5h5M231.5 360.0v5" stroke="#60ff9f"/>
<circle cx="260" cy="365" r="1.5" fill="none" stroke="#b2ff4d" stroke-width="1"/>
<path d="M299.0 364.5h5M301.5 362.0v5" stroke="#60ff9f"/>
<path d="M292.0 375.5h5M294.5 373.0v5" stroke="#60ff9f"/>
<path d="M293.0 378.5h5M295.5 376.0v5" stroke="#60ff9f"/>
<circle cx="299" cy="376" r="1.5" fill="none" stroke="#b2ff4d" stroke-width="1"/>
<circle cx="303" cy="379" r="1.5" fill="none" stroke="#b2ff4d" stroke-width="1"/>
<circle cx="259" cy="381" r="1.5" fill="none" stroke="#b2ff4d" stroke-width="1"/>
<circle cx="287" cy="381" r="1.5" fill="none" stroke="#b2ff4d" stroke-width="1"/>
<path d="M267.0 384.5h5M269.5 382.0v5" stroke="#60ff9f"/>
<circle cx="233" cy="387" r="1.5" fill="none" stroke="#b2ff4d" stroke-width="1"/>
<circle cx="250" cy="386" r="1.5" fill="none" stroke="#b2ff4d" stroke-width="1"/>
<path d="M272.0 388.5h5M274.5 386.0v5" stroke="#60ff9f"/>
<circle cx="279" cy="388" r="1.5" fill="none" stroke="#b2ff4d" stroke-width="1"/>
<path d="M290.0 389.5h5M292.5 387.0v5" stroke="#60ff9f"/>
<path d="M265.0 394.5h5M267.5 392.0v5" stroke="#60ff9f"/>
<circle cx="307" cy="397" r="1.5" fill="none" stroke="#b2ff4d" stroke-width="1"/>
<circle cx="294" cy="412" r="1.5" fill="none" stroke="#b2ff4d" stroke-width="1"/>
<path d="M309.0 362.5h5M311.5 360.0v5" stroke="#60ff9f"/>
<path d="M319.0 362.5h5M321.5 360.0v5" stroke="#60ff9f"/>
<circle cx="327" cy="362" r="1.5" fill="none" stroke="#b2ff4d" stroke-width="1"/>
<circle cx="336" cy="363" r="1.5" fill="none" stroke="#b2ff4d" stroke-width="1"/>
<circle cx="343" cy="361" r="1.5" fill="none" stroke="#b2ff4d" stroke-width="1"/>
<circle cx="341" cy="367" r="1.5" fill="none" stroke="#b2ff4d" stroke-width="1"/>
<circle cx="346" cy="365" r="1.5" fill="none" stroke="#b2ff4d" stroke-width="1"/>
<circle cx="350" cy="364" r="1.5" fill="none" stroke="#b2ff4d" stroke-width="1"/>
<path d="M360.0 358.5h5M362.5 356.0v5" stroke="#60ff9f"/>
<circle cx="366" cy="358" r="1.5" fill="none" stroke="#b2ff4d" stroke-width="1"/>
<path d="M365.0 361.5h5M367.5 359.0v5" stroke="#37ffc8"/>
<circle cx="363" cy="363" r="1.5" fill="none" stroke="#b2ff4d" stroke-width="1"/>
<path d="M361.0 365.5h5M363.5 363.0v5" stroke="#60ff9f"/>
<circle cx="369" cy="365" r="1.5" fill="none" stroke="#b2ff4d" stroke-width="1"/>
<circle cx="358" cy="368" r="1.5" fill="none" stroke="#b2ff4d" stroke-width="1"/>
<path d="M354.0 370.5h5M356.5 368.0v5" stroke="#60ff9f"/>
<circle cx="368" cy="372" r="1.5" fill="none" stroke="#b2ff4d" stroke-width="1"/>
<path d="M333.0 373.5h5M335.5 371.0v5" stroke="#60ff9f"/>
<path d="M338.0 376.5h5M340.5 374.0v5" stroke="#60ff9f"/>
<circle cx="320" cy="377" r="1.5" fill="none" stroke="#b2ff4d" stroke-width="1"/>
<path d="M332.0 380.5h5M334.5 378.0v5" stroke="#60ff9f"/>
<circle cx="336" cy="382" r="1.5" fill="none" stroke="#b2ff4d" stroke-width="1"/>
<circle cx="342" cy="382" r="1.5" fill="none" stroke="#b2ff4d" stroke-width="1"/>
<circle cx="335" cy="386" r="1.5" fill="none" stroke="#b2ff4d" stroke-width="1"/>
<circle cx="346" cy="385" r="1.5" fill="none" stroke="#b2ff4d" stroke-width="1"/>
<path d="M355.0 383.5h5M357.5 381.0v5" stroke="#60ff9f"/>
<circle cx="371" cy="386" r="1.5" fill="none" stroke="#b2ff4d" stroke-width="1"/>
<path d="M320.0 388.5h5M322.5 386.0v5" stroke="#60ff9f"/>
<circle cx="325" cy="388" r="1.5" fill="none" stroke="#b2ff4d" stroke-width="1"/>
<circle cx="318" cy="391" r="1.5" fill="none" stroke="#b2ff4d" stroke-width="1"/>
<circle cx="327" cy="392" r="1.5" fill="none" stroke="#b2ff4d" stroke-width="1"/>
<path d="M320.0 394.5h5M322.5 392.0v5" stroke="#60ff9f"/>
<circle cx="322" cy="398" r="1.5" fill="none" stroke="#b2ff4d" stroke-width="1"/>
<path d="M344.0 390.5h5M346.5 388.0v5" stroke="#60ff9f"/>
<circle cx="354" cy="394" r="1.5" fill="none" stroke="#b2ff4d" stroke-width="1"/>
<path d="M360.0 389.5h5M362.5 387.0v5" stroke="#60ff9f"/>
<circle cx="361" cy="392" r="1.5" fill="none" stroke="#b2ff4d" stroke-width="1"/>
<circle cx="341" cy="397" r="1.5" fill="none" stroke="#b2ff4d" stroke-width="1"/>
<circle cx="347" cy="404" r="1.5" fill="none" stroke="#b2ff4d" stroke-width="1"/>
<circle cx="358" cy="403" r="1.5" fill="none" stroke="#b2ff4d" stroke-width="1"/>
<circle cx="337" cy="415" r="1.5" fill="none" stroke="#b2ff4d" stroke-width="1"/>
<circle cx="339" cy="425" r="1.5" fill="none" stroke="#b2ff4d" stroke-width="1"/>
<path d="M400.0 384.5h5M402.5 382.0v5" stroke="#60ff9f"/>
<circle cx="385" cy="387" r="1.5" fill="none" stroke="#b2ff4d" stroke-width="1"/>
<path d="M396.0 389.5h5M398.5 387.0v5" stroke="#60ff9f"/>
<circle cx="405" cy="389" r="1.5" fill="none" stroke="#b2ff4d" stroke-width="1"/>
<circle cx="393" cy="397" r="1.5" fill="none" stroke="#b2ff4d" stroke-width="1"/>
<circle cx="365" cy="431" r="1.5" fill="none" stroke="#b2ff4d" stroke-width="1"/>
<circle cx="389" cy="462" r="1.5" fill="none" stroke="#b2ff4d" stroke-width="1"/>
<path d="M451.0 406.5h5M453.5 404.0v5" stroke="#60ff9f"/>
<path d="M306.0 395.5h5M308.5 393.0v5" stroke="#60ff9f"/>
<rect x="593" y="341" width="15.5" height="242" fill="url(#cb)"/>
<path d="M608.5 341 V583" stroke="#000" stroke-width="1"/>
<path d="M608 341.5H615" stroke="#000" stroke-width="1"/>
<text class="cbl" transform="translate(617 345.0) scale(1.25 1)">4.6</text>
<path d="M608 357.5H615" stroke="#000" stroke-width="1"/>
<path d="M608 383.5H615" stroke="#000" stroke-width="1"/>
<text class="cbl" transform="translate(617 387.0) scale(1.25 1)">3.0</text>
<path d="M608 409.5H615" stroke="#000" stroke-width="1"/>
<text class="cbl" transform="translate(617 413.0) scale(1.25 1)">2.0</text>
<path d="M608 435.5H615" stroke="#000" stroke-width="1"/>
<text class="cbl" transform="translate(617 439.0) scale(1.25 1)">1.0</text>
<path d="M608 462.5H615" stroke="#000" stroke-width="1"/>
<text class="cbl" transform="translate(617 466.0) scale(1.25 1)">0</text>
<path d="M608 488.5H615" stroke="#000" stroke-width="1"/>
<text class="cbl" transform="translate(617 492.0) scale(1.25 1)">-1.0</text>
<path d="M608 514.5H615" stroke="#000" stroke-width="1"/>
<text class="cbl" transform="translate(617 518.0) scale(1.25 1)">-2.0</text>
<path d="M608 540.5H615" stroke="#000" stroke-width="1"/>
<text class="cbl" transform="translate(617 544.0) scale(1.25 1)">-3.0</text>
<path d="M608 566.5H615" stroke="#000" stroke-width="1"/>
<path d="M608 582.5H615" stroke="#000" stroke-width="1"/>
<text class="cbl" transform="translate(617 586.0) scale(1.25 1)">-4.6</text>
<text class="hdr" x="399" y="19">STATION NAME    YYYY DATE  DDD HHMMSS AXN PPS IGP</text>
<text class="hdr" x="399" y="36">Jicamarca       2018 Aug15 227 182528 417  75 +8F</text>
<text class="st" transform="translate(594 71) scale(1 1.04)">Num of Sources           145</text>
<text class="st" transform="translate(594 85) scale(1 1.04)">Min Freq, kHz           2250</text>
<text class="st" transform="translate(594 99) scale(1 1.04)">Max Freq, kHz           2990</text>
<text class="st" transform="translate(594 113) scale(1 1.04)">Min Range, km             95</text>
<text class="st" transform="translate(594 127) scale(1 1.04)">Max Range, km            120</text>
<text class="st" transform="translate(594 141) scale(1 1.04)">Max Amp, dB               57</text>
<text class="st" transform="translate(594 155) scale(1 1.04)">Max SNR Amp, dB           33</text>
<text class="st" transform="translate(594 169) scale(1 1.04)">Min SNR Amp, dB           12</text>
<text class="st" transform="translate(594 183) scale(1 1.04)">Avg SNR Amp, dB           18</text>
<text class="st" transform="translate(594 197) scale(1 1.04)">Max RMS Err, deg        25.0</text>
<text class="st" transform="translate(594 211) scale(1 1.04)">Min RMS Err, deg         0.0</text>
<text class="st" transform="translate(594 225) scale(1 1.04)">Avg RMS Err, deg         7.9</text>
<text class="st" transform="translate(594 239) scale(1 1.04)">Doppler Res, Hz       0.0723</text>
<text class="st" transform="translate(594 253) scale(1 1.04)">CIT, sec               13.84</text>
<text class="st" transform="translate(594 267) scale(1 1.04)">Num of CITs                2</text>
<text class="st" transform="translate(594 281) scale(1 1.04)">Polarization          O-mode</text>
<text class="st" transform="translate(594 295) scale(1 1.04)">Center of Sources, deg:     </text>
<text class="st" transform="translate(594 309) scale(1 1.04)">          Zenith        11.8</text>
<text class="st" transform="translate(594 323) scale(1 1.04)">          Azimuth        225</text>
<path d="M722 320.5 Q723.5 316.3 726 319.8" fill="none" stroke="#222" stroke-width="1"/><path d="M720.3 319.2 L722 321.2 L723.2 319" fill="none" stroke="#222" stroke-width="0.9"/>
<text class="cmp" transform="translate(299 57) scale(1 1.12)" text-anchor="middle">North</text>
<text class="cmp" transform="translate(299 578) scale(1 1.12)" text-anchor="middle">South</text>
<text class="cmp" transform="translate(15.5 318) scale(1 1.12)">West</text>
<text class="cmp" transform="translate(552.5 318) scale(1 1.12)">East</text>
<text class="dl" transform="translate(658 465) rotate(-90)" text-anchor="middle">Doppler, Hz</text>
<path d="M669 402.5H677M672.5 399V406" stroke="#0000e0" stroke-width="1"/>
<text class="lg" x="682.5" y="406" fill="#0000e0" textLength="44.5" lengthAdjust="spacingAndGlyphs">Positive</text>
<circle cx="673" cy="523.2" r="2.4" fill="none" stroke="#e00000" stroke-width="1.1"/>
<text class="lg" x="682.5" y="526" fill="#e00000" textLength="50.5" lengthAdjust="spacingAndGlyphs">Negative</text>
<text class="ft" transform="translate(12 592.5) scale(1 1.04)">Compass coordinates</text>
<text class="ft" transform="translate(418 592.5) scale(1 1.04)">Zenith: max 40°  step 5°</text>
<text class="ver" x="654" y="593" textLength="89" lengthAdjust="spacingAndGlyphs">ShowSkymap v 1.0</text>
<text class="ver" x="753.5" y="593" textLength="38.5" lengthAdjust="spacingAndGlyphs">SD v 4.2</text>
<path d="M39.5 13.4 C33 10.6 24 11.2 18 16.5 C13 21 10.9 26.5 11 31 C11.1 36 12.4 40 14.6 43.2 C13.6 39 13.2 34.5 13.7 30 C14.4 24 17.6 19.3 22 16.6 C27 13.9 33 13.4 39.5 13.4 Z" fill="#3a9cc8"/>
<text class="lw" x="49" y="30.5" textLength="30.2" lengthAdjust="spacingAndGlyphs">Lowell</text>
<text class="dg" x="20" y="43.5" textLength="59.5" lengthAdjust="spacingAndGlyphs">DIGISONDE</text>
</svg></body></html>
